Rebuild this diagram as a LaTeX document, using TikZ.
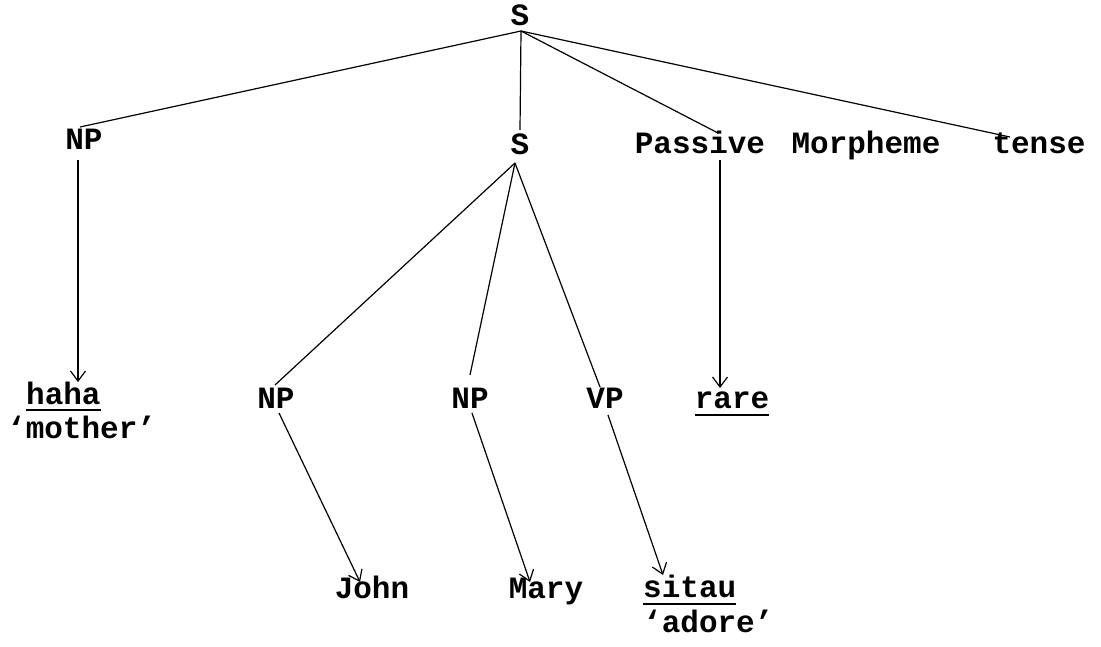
\documentclass[tikz,border=0pt]{standalone}
\usepackage{fontspec}
\newfontfamily\tw{Liberation Mono}
\usetikzlibrary{arrows.meta,calc}
\newcommand\ulx[2][-8pt]{\setbox0\hbox{#2}\rlap{\rule[#1]{\wd0}{2pt}}\box0}
\tikzset{
  lbl/.style={inner sep=0pt, anchor=base, font=\tw\bfseries\fontsize{31}{34}\selectfont},
  lblw/.style={lbl, anchor=base west},
  edge/.style={line width=1.2pt},
  arr/.style={edge, -{Straight Barb[length=10pt,width=15pt,line width=1.2pt]}},
}
\begin{document}
\begin{tikzpicture}[x=1pt,y=-1pt]
\useasboundingbox[fill=white] (0,0) rectangle (1101,646);
% nodes
\node[lbl] (S0) at (520,25) {S};
\node[lbl] (NPl) at (84,149) {NP};
\node[lbl] (S1) at (520,154) {S};
\node[lbl] (Pas) at (700,153) {Passive};
\node[lbl] (Mor) at (866,153) {Morpheme};
\node[lbl] (Ten) at (1039,153) {tense};
\node[lblw] (haha) at (26,404) {\ulx[-7pt]{haha}};
\node[lblw] (moth) at (7,438) {‘mother’};
\node[lbl] (NPa) at (276,408) {NP};
\node[lbl] (NPb) at (470,408) {NP};
\node[lbl] (VP) at (605,408) {VP};
\node[lbl] (rare) at (732,408) {\ulx{rare}};
\node[lbl] (John) at (372,598) {John};
\node[lbl] (Mary) at (546,598) {Mary};
\node[lblw] (sitau) at (643,597) {\ulx{sitau}};
\node[lblw] (adore) at (643,632) {‘adore’};
% connectors from top S
\coordinate (apex0) at ($(S0.base)+(1,6)$);
\draw[edge] (apex0) -- ($(NPl.base)+(-4,-22)$);
\draw[edge] (apex0) -- ($(S1.base)+(0,-24)$);
\draw[edge] (apex0) -- ($(Pas.base)+(18,-20)$);
\draw[edge] (apex0) -- ($(Ten.base)+(-29,-16)$);
% arrows
\draw[arr] ($(NPl.base)+(-6,11)$) -- ($(haha.base west)+(52,-22)$);
\draw[arr] ($(Pas.base)+(20,7)$) -- ($(rare.base)+(-12,-20)$);
% lower S
\coordinate (apex1) at ($(S1.base)+(-5,9)$);
\draw[edge] (apex1) -- ($(NPa.base)+(-1,-23)$);
\draw[edge] (apex1) -- ($(NPb.base)+(0,-33)$);
\draw[edge] (apex1) -- ($(VP.base)+(-5,-21)$);
\draw[arr] ($(NPa.base)+(3,5)$) -- ($(John.base)+(-12,-16)$);
\draw[arr] ($(NPb.base)+(2,5)$) -- ($(Mary.base)+(-16,-16)$);
\draw[arr] ($(VP.base)+(3,7)$) -- ($(sitau.base west)+(20,-22)$);
\end{tikzpicture}
\end{document}
